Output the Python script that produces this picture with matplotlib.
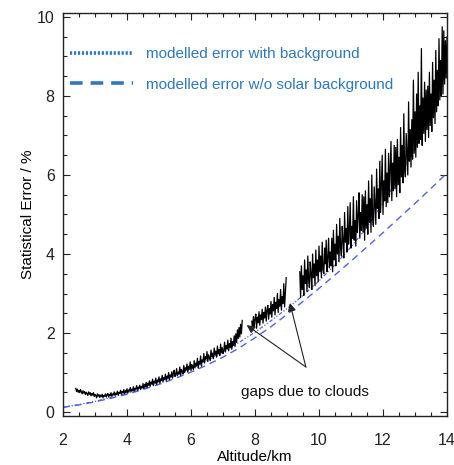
import numpy as np
import matplotlib
matplotlib.use("Agg")
import matplotlib.pyplot as plt
from matplotlib.lines import Line2D
from matplotlib.ticker import MultipleLocator

plt.rcParams['font.family'] = ['Liberation Sans', 'DejaVu Sans']

# ---- measured statistical error (altitude grid 2.400 .. 14.000 km, 0.025 km step) ----
alt = np.round(np.arange(2400, 14001, 25) / 1000.0, 3)
nan = np.nan
err = [
    # 2.400 - 3.375
    0.60, 0.52, 0.58, 0.50, 0.55, 0.49, 0.57, 0.51, 0.46, 0.54, 0.48, 0.52, 0.44, 0.50, 0.47, 0.42, 0.51, 0.45, 0.49, 0.41,
    0.47, 0.43, 0.49, 0.39, 0.45, 0.42, 0.36, 0.46, 0.40, 0.44, 0.37, 0.43, 0.39, 0.45, 0.36, 0.42, 0.40, 0.46, 0.38, 0.44,
    # 3.400 - 4.375
    0.47, 0.38, 0.45, 0.41, 0.49, 0.40, 0.46, 0.43, 0.51, 0.42, 0.48, 0.44, 0.53, 0.43, 0.50, 0.47, 0.55, 0.45, 0.52, 0.49,
    0.57, 0.46, 0.54, 0.50, 0.59, 0.48, 0.56, 0.53, 0.62, 0.51, 0.58, 0.55, 0.64, 0.53, 0.60, 0.58, 0.67, 0.55, 0.63, 0.60,
    # 4.400 - 5.375
    0.68, 0.57, 0.65, 0.61, 0.72, 0.59, 0.70, 0.64, 0.75, 0.62, 0.73, 0.68, 0.79, 0.65, 0.76, 0.71, 0.83, 0.67, 0.78, 0.74,
    0.86, 0.70, 0.81, 0.77, 0.89, 0.73, 0.84, 0.80, 0.93, 0.76, 0.87, 0.83, 0.96, 0.79, 0.91, 0.86, 1.00, 0.82, 0.94, 0.89,
    # 5.400 - 6.375
    1.02, 0.86, 0.98, 1.06, 0.90, 0.95, 1.10, 0.92, 1.01, 0.97, 1.14, 0.93, 1.08, 1.03, 0.96, 1.18, 1.00, 1.12, 1.06, 1.22,
    1.01, 1.16, 1.09, 1.27, 1.05, 1.20, 1.13, 1.08, 1.30, 1.12, 1.24, 1.17, 1.36, 1.11, 1.28, 1.22, 1.42, 1.16, 1.32, 1.27,
    # 6.400 - 7.375
    1.48, 1.24, 1.40, 1.34, 1.53, 1.28, 1.45, 1.38, 1.30, 1.57, 1.41, 1.49, 1.35, 1.62, 1.44, 1.54, 1.39, 1.67, 1.47, 1.58,
    1.43, 1.72, 1.51, 1.63, 1.48, 1.56, 1.77, 1.52, 1.68, 1.60, 1.82, 1.55, 1.73, 1.64, 1.87, 1.59, 1.78, 1.69, 1.93, 1.66,
    # 7.400 - 8.375  (gap 7.625 - 7.875)
    1.98, 1.76, 2.08, 1.86, 2.14, 1.90, 2.22, 1.98, 2.32,
    nan, nan, nan, nan, nan, nan, nan, nan, nan, nan, nan,
    2.30, 2.08, 2.42, 2.16, 2.36, 2.48, 2.12, 2.40, 2.26, 2.54, 2.20, 2.46, 2.34, 2.60, 2.25, 2.52, 2.38, 2.66, 2.30, 2.58,
    # 8.400 - 9.375  (gap 9.000 - 9.375)
    2.70, 2.35, 2.62, 2.48, 2.80, 2.40, 2.72, 2.56, 2.90, 2.46, 2.78, 2.62, 3.00, 2.52, 2.85, 2.68, 3.10, 2.58, 2.92, 2.75,
    3.25, 2.66, 3.05, 3.40,
    nan, nan, nan, nan, nan, nan, nan, nan, nan, nan, nan, nan, nan, nan, nan, nan,
    # 9.400 - 10.375
    3.55, 2.90, 3.70, 3.10, 3.45, 2.95, 3.85, 3.25, 3.60, 3.05, 3.95, 3.35, 3.15, 3.80, 3.50, 3.10, 4.00, 3.40, 3.75, 3.20,
    4.10, 3.45, 3.85, 3.30, 4.20, 3.55, 3.95, 3.40, 4.30, 3.60, 3.50, 4.15, 3.75, 4.35, 3.55, 3.90, 4.40, 3.65, 4.05, 3.70,
    # 10.400 - 11.375
    4.40, 3.55, 4.60, 3.85, 4.25, 3.70, 4.75, 4.00, 4.45, 3.80, 4.90, 4.15, 3.95, 4.70, 4.35, 3.90, 5.05, 4.30, 4.65, 4.05,
    5.20, 4.25, 4.60, 5.30, 4.15, 4.70, 4.40, 5.45, 4.35, 4.85, 4.20, 5.35, 4.55, 4.95, 5.55, 4.40, 5.05, 4.60, 5.50, 4.55,
    # 11.400 - 12.375
    5.45, 4.35, 5.60, 4.65, 5.25, 4.50, 5.85, 4.80, 5.40, 4.55, 6.00, 4.90, 4.70, 5.70, 5.20, 4.75, 6.15, 5.15, 5.65, 4.90,
    6.35, 5.05, 5.75, 6.50, 5.00, 5.85, 5.35, 6.65, 5.20, 6.05, 5.30, 6.55, 5.45, 6.20, 6.85, 5.35, 6.30, 5.60, 6.75, 5.65,
    # 12.400 - 13.375
    6.70, 5.45, 6.90, 5.75, 6.45, 5.55, 7.20, 5.95, 6.75, 5.80, 7.55, 6.15, 5.95, 7.05, 6.55, 6.00, 7.85, 6.35, 7.15, 6.20,
    7.40, 6.40, 8.40, 6.55, 7.60, 6.45, 8.05, 6.70, 8.60, 6.80, 7.75, 6.90, 9.20, 6.75, 7.95, 7.05, 8.35, 6.85, 8.15, 7.15,
    # 13.400 - 14.000
    8.25, 6.95, 8.60, 7.25, 8.05, 7.10, 8.85, 7.45, 8.40, 7.30, 9.15, 7.60, 8.65, 7.75, 9.45, 7.90, 8.90, 8.00, 9.75, 8.05,
    9.65, 8.30, 9.40, 8.45, 9.50,
]
assert len(err) == len(alt), (len(err), len(alt))

# ---- modelled errors ----
model_alt = [2.0, 2.5, 3.0, 3.5, 4.0, 4.5, 5.0, 5.5, 6.0, 6.5, 7.0, 7.5, 8.0,
             8.5, 9.0, 9.5, 10.0, 10.5, 11.0, 11.5, 12.0, 12.5, 13.0, 13.5, 14.0]
err_with_bg = [0.12, 0.19, 0.27, 0.37, 0.48, 0.61, 0.76, 0.92, 1.10, 1.30, 1.52, 1.76, 2.02,
               2.31, 2.62, 2.95, 3.32, 3.73, 4.18, 4.68, 5.30, 5.95, 6.70, 7.60, 8.65]
err_no_solar = [0.12, 0.18, 0.26, 0.35, 0.45, 0.57, 0.70, 0.85, 1.01, 1.19, 1.39, 1.62, 1.88,
                2.16, 2.47, 2.80, 3.13, 3.47, 3.82, 4.18, 4.54, 4.91, 5.28, 5.66, 6.05]

legend_labels = ["modelled error with background", "modelled error w/o solar background"]
annot_text = "gaps due to clouds"

fig = plt.figure(figsize=(4.54, 4.65), dpi=100)
ax = fig.add_axes([63/454, 1 - 416/465, 384/454, 403/465])

curve_col = '#5262dd'
ax.plot(model_alt, err_with_bg, color=curve_col, lw=0.9, linestyle=(0, (3, 1.5, 1, 1.5, 1, 1.5)))
ax.plot(model_alt, err_no_solar, color=curve_col, lw=1.0, linestyle=(0, (5, 3.5)))
ax.plot(alt, err, color='black', lw=0.9)

ax.set_xlim(2, 14)
ax.set_ylim(-0.1, 10.1)
ax.xaxis.set_major_locator(MultipleLocator(2))
ax.xaxis.set_minor_locator(MultipleLocator(0.5))
ax.yaxis.set_major_locator(MultipleLocator(2))
ax.yaxis.set_minor_locator(MultipleLocator(0.5))
ax.tick_params(which='both', direction='in', top=True, right=True, width=0.8, colors='#222222')
ax.tick_params(which='major', length=5)
ax.tick_params(which='minor', length=3)
ax.tick_params(axis='x', which='major', pad=12, labelsize=11.5)
ax.tick_params(axis='y', which='major', pad=6, labelsize=11.5)
for s in ax.spines.values():
    s.set_linewidth(1.0)
    s.set_color('#222222')

ax.set_xlabel("Altitude/km", fontsize=11, labelpad=2)
ax.set_ylabel("Statistical Error / %", fontsize=11, labelpad=1.5)

# legend
leg_col = '#2d78c0'
handles = [Line2D([], [], color=leg_col, lw=2.6, linestyle=(0, (0.6, 0.5))),
           Line2D([], [], color=leg_col, lw=2.6, linestyle=(0, (3.5, 2.2)))]
leg = ax.legend(handles, legend_labels, loc='upper left', bbox_to_anchor=(0.018, 0.915),
                frameon=False, fontsize=11, handlelength=4.1, handletextpad=0.9,
                labelspacing=1.08, borderaxespad=0, borderpad=0, labelcolor=leg_col)

# annotation arrows
ax.annotate('', xy=(7.74, 2.2), xytext=(9.59, 1.14),
            arrowprops=dict(arrowstyle='-|>', color='#222222', lw=0.8, mutation_scale=12, shrinkA=0, shrinkB=0))
ax.annotate('', xy=(9.09, 2.76), xytext=(9.59, 1.14),
            arrowprops=dict(arrowstyle='-|>', color='#222222', lw=0.8, mutation_scale=12, shrinkA=0, shrinkB=0))
ax.text(9.56, 0.5, annot_text, ha='center', va='center', fontsize=11, color='#111111')

fig.savefig('out.png', dpi=100)
